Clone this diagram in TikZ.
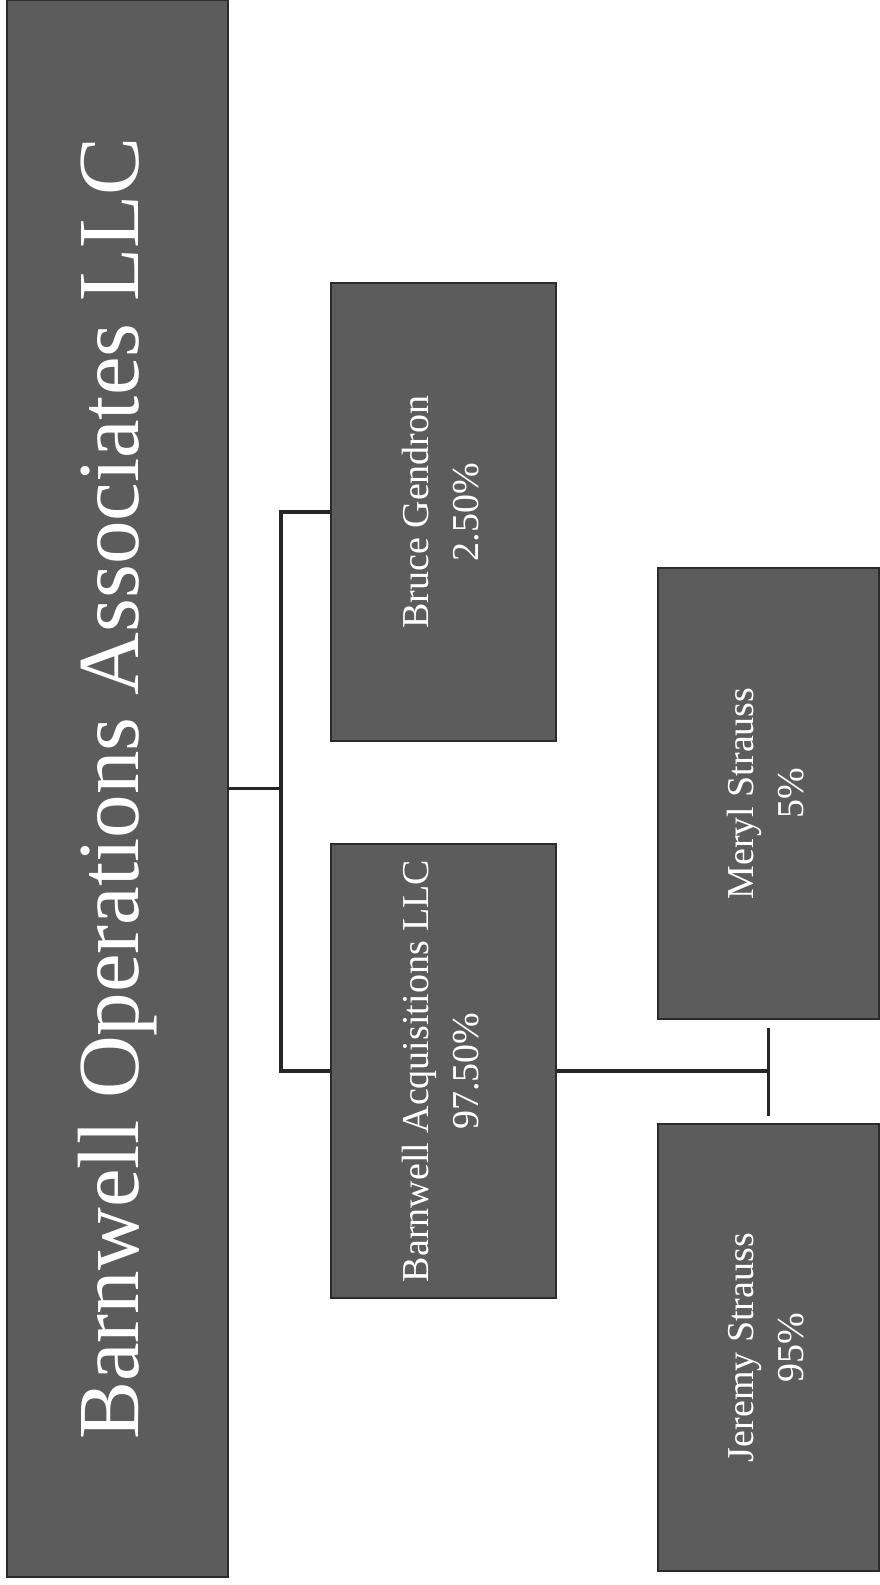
\documentclass[tikz,border=0pt]{standalone}
\usepackage{fontspec}
\setmainfont{Liberation Serif}
\usepackage{graphicx}

\definecolor{boxgray}{HTML}{5C5C5C}
\definecolor{boxedge}{HTML}{2B2B2B}

\tikzset{
  orgbox/.style={draw=boxedge, fill=boxgray, line width=1.5pt, inner sep=0pt,
    text=white, font=\fontsize{38}{50}\selectfont},
  link/.style={line width=3.2pt, draw=black!85}
}

% text culcat, citit de jos in sus
\newcommand{\sidetext}[2]{\rotatebox{90}{\begin{tabular}{@{}c@{}}#1\\#2\end{tabular}}}

\begin{document}
\begin{tikzpicture}[x=1pt, y=-1pt]
    \useasboundingbox (0,0) rectangle (879,1585);
    % Firma principala (stanga, pe toata inaltimea)
    \node[orgbox, minimum width=221pt, minimum height=1577pt] (ops) at (117.5,788.5)
      {\rotatebox{90}{\fontsize{87}{100}\selectfont Barnwell Operations Associates LLC}};
    % Asociatii firmei principale
    \node[orgbox, minimum width=225pt, minimum height=458pt] (bruce) at (443.5,512)
      {\sidetext{Bruce Gendron}{2.50\%}};
    \node[orgbox, minimum width=225pt, minimum height=454pt] (acq) at (443.5,1071)
      {\sidetext{Barnwell Acquisitions LLC}{97.50\%}};
    % Asociatii Barnwell Acquisitions
    \node[orgbox, minimum width=221pt, minimum height=451pt] (meryl) at (768.5,793.5)
      {\sidetext{Meryl Strauss}{5\%}};
    \node[orgbox, minimum width=221pt, minimum height=447pt] (jeremy) at (768.5,1347.5)
      {\sidetext{Jeremy Strauss}{95\%}};
    % Legaturi
    \coordinate (j1) at (281,788.5);
    \draw[link] (ops.east) -- (j1);
    \draw[link] (j1) |- (bruce.west);
    \draw[link] (j1) |- (acq.west);
    \coordinate (j2) at (770,1071);
    \draw[link] (acq.east) -- (j2);
    \draw[link] ([yshift=-8pt]meryl.south) -- ([yshift=7pt]jeremy.north);
  \end{tikzpicture}
\end{document}
